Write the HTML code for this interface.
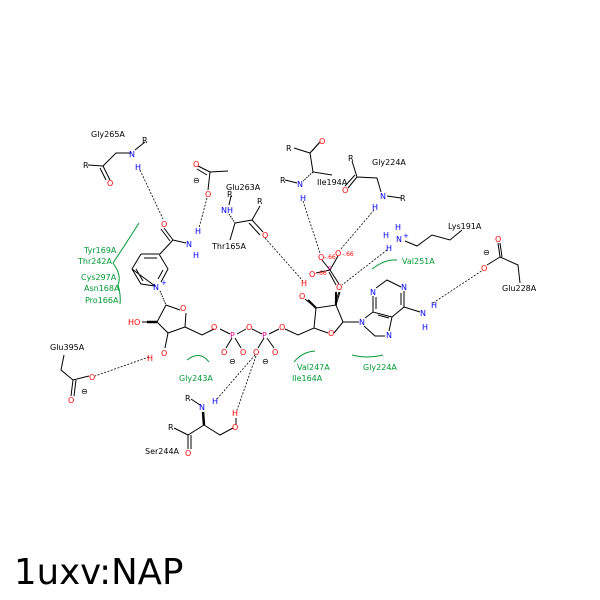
<!DOCTYPE html>
<html><head><meta charset="utf-8"><style>
html,body{margin:0;padding:0;background:#fff}
svg{display:block}
text{font-family:"DejaVu Sans","Liberation Sans",sans-serif;font-size:8px}
.k{fill:#000}.b{fill:#0000ff}.r{fill:#ff0000}.g{fill:#009933}.m{fill:#e0008a}
</style></head><body>
<svg width="600" height="600" viewBox="0 0 600 600">
<g stroke="#000" stroke-width="1" fill="none">
<path d="M145 142 L135 150 M131 153 L116 153 L103 166 L88 165 M103 166 L110 180 M100 168 L106 180"/>
<path d="M228 171 L210 172 L208 190 M210 172 L198 166 M207 175 L197 169"/>
<path d="M231 196 L229 205 M235 223 L252 220 L260 206 M252 220 L263 232 M249 223 L260 235 M235 223 L230 240"/>
<path d="M229 214 L235 223" stroke-dasharray="1.5,1"/>
<path d="M164 228 L173 240 M161 229 L170 241 M173 240 L186 243 M173 240 L160 254"/>
<path d="M141 254 L159 254 L168 269 L161 282 M155 286 L141 284 L132 269 Z M141 254 L132 269 M144 258 L157 258 M136 269 L143 281 M163 270 L158 279"/>
<path d="M166 305 L180 310 M186 313 L185 327 L168 333 L157 322 L166 305 M157 322 L142 322 M168 333 L165 348 M185 327 L202 335 L214 329"/>
<path d="M160 291 L166 305" stroke-dasharray="1.5,1"/>
<path d="M220 329 L230 334 M237 334 L246 329 M252 329 L262 334 M269 334 L279 329 M285 329 L298 335 L314 328 L328 333 M334 333 L343 322 L336 305 L316 308 L314 328 M336 305 L340 292 M316 308 L305 299 M343 322 L359 322"/>
<path d="M232 338 L226 348 M235 338 L241 348 M264 338 L258 348 M267 338 L274 348"/>
<path d="M365 318 L373 312 L392 317 L389 331 M385 336 L375 336 L364 326 M373 312 L373 296 M376 288 L387 280 L401 287 M404 291 L404 307 L392 317 M404 307 L420 312 M378 315 L389 318 M401 293 L401 305 M376 297 L376 309"/>
<path d="M294 148 L310 153 L319 143 M310 153 L313 172 L332 175 M285 180 L297 183 M312 151 L320 142"/>
<path d="M313 172 L303 181" stroke-dasharray="1.5,1"/>
<path d="M352 161 L357 177 L348 188 M355 175 L345 186 M357 177 L377 178 L381 192 M387 196 L401 198"/>
<path d="M405 241 L417 246 L432 235 L450 240 L462 230"/>
<path d="M500 257 L498 243 M502 257 L500 243 M500 257 L487 265 M500 257 L518 265 L520 283"/>
<path d="M330 270 L322 260 M330 270 L338 256 M330 270 L316 273 M330 270 L339 284 M329 272 L336 285 M339 292 L335 303"/>
<path d="M64 355 L61 370 L73 380 L89 376 M73 380 L71 396 M76 380 L74 396"/>
<path d="M191 399 L200 405 M204 425 L220 435 L233 428 M204 425 L188 435 L174 428 M188 435 L188 449 M191 435 L191 449 M236 425 L236 418"/>
<path d="M203 412 L204 425" stroke-width="2.5"/>
<path d="M157 322 L147 322" stroke-width="2.5"/>
<path d="M336 305 L336 292" stroke-width="2"/>
<path d="M316 308 L308 300" stroke-width="2"/>
</g>
<g stroke="#000" stroke-width="0.8" stroke-dasharray="2,1.5" fill="none">
<path d="M140 170 L163 219"/>
<path d="M207 198 L199 228"/>
<path d="M265 238 L303 281"/>
<path d="M303 201 L320 253"/>
<path d="M374 210 L340 250"/>
<path d="M387 250 L342 285"/>
<path d="M433 303 L483 270"/>
<path d="M149 357 L95 376"/>
<path d="M255 355 L217 399"/>
<path d="M256 356 L237 410"/>
</g>
<g stroke="#009933" stroke-width="1" fill="none">
<path d="M139 223 Q125 245 113 263 Q122 275 118 285 Q121 295 120 304"/>
<path d="M187 360 Q200 350 209 362"/>
<path d="M294 362 Q302 352 315 351"/>
<path d="M352 355 Q368 359 383 355"/>
<path d="M372 269 Q385 259 397 260"/>
</g>
<text x="91" y="137" class="k">Gly265A</text>
<text x="142" y="143" class="k">R</text>
<text x="129" y="157" class="b">N</text>
<text x="135" y="170" class="b">H</text>
<text x="83" y="168" class="k">R</text>
<text x="107" y="186" class="r">O</text>
<text x="193" y="167" class="r">O</text>
<text x="193" y="183" class="k">⊖</text>
<text x="205" y="197" class="r">O</text>
<text x="226" y="190" class="k">Glu263A</text>
<text x="227" y="197" class="k">R</text>
<text x="221" y="213" class="b">NH</text>
<text x="257" y="204" class="k">R</text>
<text x="262" y="238" class="r">O</text>
<text x="212" y="249" class="k">Thr165A</text>
<text x="161" y="227" class="r">O</text>
<text x="186" y="247" class="b">N</text>
<text x="195" y="234" class="b">H</text>
<text x="193" y="258" class="b">H</text>
<text x="153" y="290" class="b">N</text>
<text x="161" y="285" class="b" style="font-size:7px">+</text>
<text x="84" y="253" class="g">Tyr169A</text>
<text x="78" y="264" class="g">Thr242A</text>
<text x="81" y="280" class="g">Cys297A</text>
<text x="84" y="291" class="g">Asn168A</text>
<text x="85" y="303" class="g">Pro166A</text>
<text x="180" y="311" class="r">O</text>
<text x="128" y="325" class="r">HO</text>
<text x="161" y="356" class="r">O</text>
<text x="147" y="361" class="r">H</text>
<text x="211" y="330" class="r">O</text>
<text x="230" y="338" class="m">P</text>
<text x="246" y="330" class="r">O</text>
<text x="262" y="338" class="m">P</text>
<text x="279" y="330" class="r">O</text>
<text x="221" y="355" class="r">O</text>
<text x="240" y="355" class="r">O</text>
<text x="253" y="355" class="r">O</text>
<text x="272" y="355" class="r">O</text>
<text x="229" y="364" class="k">⊖</text>
<text x="262" y="364" class="k">⊖</text>
<text x="328" y="336" class="r">O</text>
<text x="359" y="325" class="b">N</text>
<text x="386" y="338" class="b">N</text>
<text x="370" y="295" class="b">N</text>
<text x="401" y="290" class="b">N</text>
<text x="420" y="316" class="b">N</text>
<text x="431" y="308" class="b">H</text>
<text x="422" y="330" class="b">H</text>
<text x="299" y="299" class="r">O</text>
<text x="301" y="286" class="r">H</text>
<text x="286" y="151" class="k">R</text>
<text x="319" y="144" class="r">O</text>
<text x="317" y="185" class="k">Ile194A</text>
<text x="280" y="183" class="k">R</text>
<text x="297" y="187" class="b">N</text>
<text x="300" y="201" class="b">H</text>
<text x="348" y="161" class="k">R</text>
<text x="372" y="165" class="k">Gly224A</text>
<text x="342" y="193" class="r">O</text>
<text x="380" y="199" class="b">N</text>
<text x="400" y="201" class="k">R</text>
<text x="372" y="210" class="b">H</text>
<text x="395" y="230" class="b">H</text>
<text x="383" y="238" class="b">H</text>
<text x="396" y="242" class="b">N</text>
<text x="403" y="238" class="b" style="font-size:7px">+</text>
<text x="386" y="251" class="b">H</text>
<text x="448" y="229" class="k">Lys191A</text>
<text x="402" y="264" class="g">Val251A</text>
<text x="318" y="260" class="r">O</text>
<text x="324" y="259" class="r" style="font-size:6px">-.66</text>
<text x="335" y="256" class="r">O</text>
<text x="342" y="256" class="r" style="font-size:6px">-.66</text>
<text x="309" y="277" class="r">O</text>
<text x="315" y="275" class="r" style="font-size:6px">-.66</text>
<text x="328" y="271" class="m" style="font-size:6px">P</text>
<text x="336" y="290" class="r">O</text>
<text x="483" y="255" class="k">⊖</text>
<text x="495" y="242" class="r">O</text>
<text x="481" y="271" class="r">O</text>
<text x="502" y="291" class="k">Glu228A</text>
<text x="50" y="350" class="k">Glu395A</text>
<text x="89" y="380" class="r">O</text>
<text x="68" y="403" class="r">O</text>
<text x="81" y="394" class="k">⊖</text>
<text x="179" y="381" class="g">Gly243A</text>
<text x="297" y="370" class="g">Val247A</text>
<text x="292" y="381" class="g">Ile164A</text>
<text x="363" y="370" class="g">Gly224A</text>
<text x="185" y="401" class="k">R</text>
<text x="199" y="410" class="b">N</text>
<text x="212" y="404" class="b">H</text>
<text x="168" y="430" class="k">R</text>
<text x="185" y="456" class="r">O</text>
<text x="232" y="430" class="r">O</text>
<text x="232" y="416" class="r">H</text>
<text x="145" y="454" class="k">Ser244A</text>
<text x="14" y="584" class="k" style="font-size:35.5px">1uxv:NAP</text>
</svg>
</body></html>
